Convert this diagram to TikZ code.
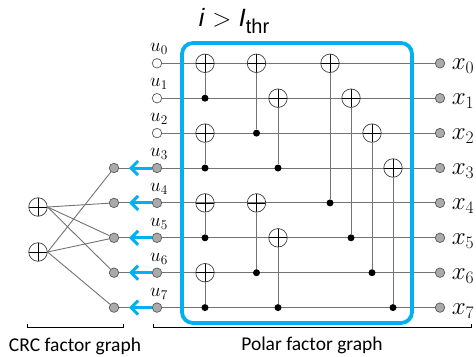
\documentclass[tikz,border=0pt]{standalone}
\usepackage{fix-cm}
\usepackage{fontspec}
\setmainfont{Carlito}
\newfontfamily\arialfont{Liberation Sans}
\usetikzlibrary{arrows.meta}
\definecolor{crcblue}{RGB}{0,176,240}
\definecolor{nodegray}{RGB}{170,170,170}
\begin{document}
\begin{tikzpicture}[x=1pt,y=-1pt,
  wire/.style={draw=black!55,line width=0.9pt},
  open/.style={circle,draw=black!65,fill=white,line width=0.7pt,minimum size=9.5pt,inner sep=0pt},
  full/.style={open,fill=nodegray},
  bit/.style={circle,fill=black,minimum size=7pt,inner sep=0pt},
  xorgate/.style={circle,draw=black!75,line width=0.7pt,minimum size=18.5pt,inner sep=0pt,
    path picture={\draw[black,line width=0.7pt] (path picture bounding box.north) -- (path picture bounding box.south)
      (path picture bounding box.west) -- (path picture bounding box.east);}},
  ulabel/.style={font=\fontsize{19}{19}\selectfont,inner sep=0pt},
  xlabel/.style={font=\fontsize{25}{25}\selectfont,inner sep=0pt},
  push/.style={crcblue,line width=3pt,-{Straight Barb[length=7pt,width=14pt,line width=3pt]}},
  text label/.style={font=\fontsize{19.5}{19.5}\selectfont,inner sep=0pt}]
\useasboundingbox (0,0) rectangle (476,356);

% bit nodes
\node[open] (u0) at (157,63.3) {};
\node[open] (u1) at (157,98.2) {};
\node[open] (u2) at (157,133.1) {};
\node[full] (u3) at (157,168) {};
\node[full] (u4) at (157,202.9) {};
\node[full] (u5) at (157,237.8) {};
\node[full] (u6) at (157,272.7) {};
\node[full] (u7) at (157,307.6) {};

\node[full] (x0) at (440,63.3) {};
\node[full] (x1) at (440,98.2) {};
\node[full] (x2) at (440,133.1) {};
\node[full] (x3) at (440,168) {};
\node[full] (x4) at (440,202.9) {};
\node[full] (x5) at (440,237.8) {};
\node[full] (x6) at (440,272.7) {};
\node[full] (x7) at (440,307.6) {};

\node[full] (c3) at (114,168) {};
\node[full] (c4) at (114,202.9) {};
\node[full] (c5) at (114,237.8) {};
\node[full] (c6) at (114,272.7) {};
\node[full] (c7) at (114,307.6) {};

% wires
\draw[wire] (u0) -- (x0);
\draw[wire] (u1) -- (x1);
\draw[wire] (u2) -- (x2);
\draw[wire] (u3) -- (x3);
\draw[wire] (u4) -- (x4);
\draw[wire] (u5) -- (x5);
\draw[wire] (u6) -- (x6);
\draw[wire] (u7) -- (x7);

\draw[wire] (c3) -- (u3);
\draw[wire] (c4) -- (u4);
\draw[wire] (c5) -- (u5);
\draw[wire] (c6) -- (u6);
\draw[wire] (c7) -- (u7);

% polar part
\node[xorgate] (a0) at (205,63.3) {};
\node[xorgate] (a2) at (205,133.1) {};
\node[xorgate] (a4) at (205,202.9) {};
\node[xorgate] (a6) at (205,272.7) {};
\node[bit] (d1) at (205,98.2) {};
\node[bit] (d3) at (205,168) {};
\node[bit] (d5) at (205,237.8) {};
\node[bit] (d7) at (205,307.6) {};
\draw[wire] (a0) -- (d1);
\draw[wire] (a2) -- (d3);
\draw[wire] (a4) -- (d5);
\draw[wire] (a6) -- (d7);

\node[xorgate] (b0) at (256.5,63.3) {};
\node[xorgate] (b4) at (256.5,202.9) {};
\node[bit] (e2) at (256.5,133.1) {};
\node[bit] (e6) at (256.5,272.7) {};
\draw[wire] (b0) -- (e2);
\draw[wire] (b4) -- (e6);

\node[xorgate] (b1) at (278,98.2) {};
\node[xorgate] (b5) at (278,237.8) {};
\node[bit] (e3) at (278,168) {};
\node[bit] (e7) at (278,307.6) {};
\draw[wire] (b1) -- (e3);
\draw[wire] (b5) -- (e7);

\node[xorgate] (f0) at (330,63.3) {};
\node[xorgate] (f1) at (351,98.2) {};
\node[xorgate] (f2) at (372,133.1) {};
\node[xorgate] (f3) at (393,168) {};
\node[bit] (g4) at (330,202.9) {};
\node[bit] (g5) at (351,237.8) {};
\node[bit] (g6) at (372,272.7) {};
\node[bit] (g7) at (393,307.6) {};
\draw[wire] (f0) -- (g4);
\draw[wire] (f1) -- (g5);
\draw[wire] (f2) -- (g6);
\draw[wire] (f3) -- (g7);

% CRC part
\node[xorgate] (crc0) at (38,207) {};
\node[xorgate] (crc1) at (38,252) {};
\draw[wire] (crc0.east) -- (c4);
\draw[wire] (crc0.east) -- (c5);
\draw[wire] (crc0.east) -- (c6);
\draw[wire] (crc1.east) -- (c3);
\draw[wire] (crc1.east) -- (c5);
\draw[wire] (crc1.east) -- (c7);

% arrows
\coordinate (t3) at (129,168);
\coordinate (t4) at (129,202.9);
\coordinate (t5) at (129,237.8);
\coordinate (t6) at (129,272.7);
\coordinate (t7) at (129,307.6);
\draw[push] (u3) -- (t3);
\draw[push] (u4) -- (t4);
\draw[push] (u5) -- (t5);
\draw[push] (u6) -- (t6);
\draw[push] (u7) -- (t7);

% box
\draw[crcblue,line width=3.8pt,rounded corners=11pt] (182,43) rectangle (412,323);

% labels
\node[ulabel] (lu0) at (159,49) {$u_0$};
\node[ulabel] (lu1) at (159,84) {$u_1$};
\node[ulabel] (lu2) at (159,119) {$u_2$};
\node[ulabel] (lu3) at (159,154) {$u_3$};
\node[ulabel] (lu4) at (159,189) {$u_4$};
\node[ulabel] (lu5) at (159,223.5) {$u_5$};
\node[ulabel] (lu6) at (159,258.5) {$u_6$};
\node[ulabel] (lu7) at (159,293.5) {$u_7$};

\node[xlabel] (lx0) at (463,66) {$x_0$};
\node[xlabel] (lx1) at (463,101) {$x_1$};
\node[xlabel] (lx2) at (463,136) {$x_2$};
\node[xlabel] (lx3) at (463,171) {$x_3$};
\node[xlabel] (lx4) at (463,206) {$x_4$};
\node[xlabel] (lx5) at (463,241) {$x_5$};
\node[xlabel] (lx6) at (463,276) {$x_6$};
\node[xlabel] (lx7) at (463,311) {$x_7$};

\node[inner sep=0pt] (thr) at (234,21) {\fontsize{25}{25}\selectfont\arialfont\textit{i}\hspace{0.3em}$>$\hspace{0.3em}\textit{I}\raisebox{-0.25em}{\fontsize{20}{20}\selectfont thr}};

% brackets
\draw[line width=1pt] (27,324) -- (27,327.2) -- (123,327.2) -- (123,324);
\draw[line width=1pt] (153,324) -- (153,327.2) -- (471,327.2) -- (471,324);
\node[text label] (crclabel) at (75,346) {CRC factor graph};
\node[text label] (polarlabel) at (312,345) {Polar factor graph};
\end{tikzpicture}
\end{document}
